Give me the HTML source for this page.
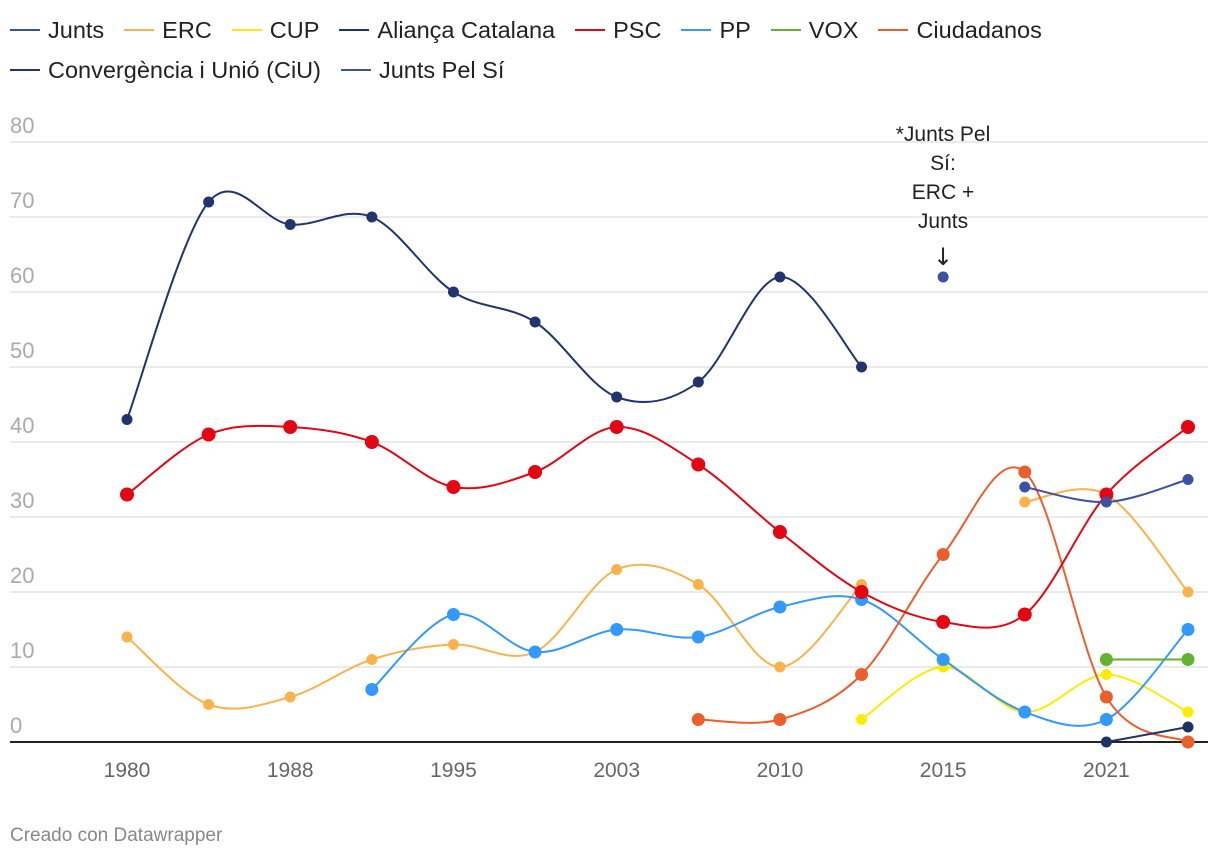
<!DOCTYPE html>
<html><head><meta charset="utf-8"><style>
body{margin:0;background:#fff;font-family:"Liberation Sans",sans-serif;}
#wrap{position:relative;width:1220px;height:858px;overflow:hidden}
.legend{position:absolute;left:10px;top:16px;width:1100px;display:flex;flex-wrap:wrap;row-gap:12px;column-gap:20px;font-size:23.5px;color:#222}
.li{display:flex;align-items:center;height:28px}
.sw{width:30px;height:2px;margin-right:8px}
</style></head><body><div id="wrap">
<div class="legend">
<div class="li"><span class="sw" style="background:#3b51a3"></span>Junts</div>
<div class="li"><span class="sw" style="background:#fbb24a"></span>ERC</div>
<div class="li"><span class="sw" style="background:#ffeb00"></span>CUP</div>
<div class="li"><span class="sw" style="background:#1b3466"></span>Aliança Catalana</div>
<div class="li"><span class="sw" style="background:#e30613"></span>PSC</div>
<div class="li"><span class="sw" style="background:#3399ff"></span>PP</div>
<div class="li"><span class="sw" style="background:#63b32e"></span>VOX</div>
<div class="li"><span class="sw" style="background:#eb5f2c"></span>Ciudadanos</div>
<div class="li"><span class="sw" style="background:#22346e"></span>Convergència i Unió (CiU)</div>
<div class="li"><span class="sw" style="background:#3b51a3"></span>Junts Pel Sí</div>
</div>
<svg id="svg" width="1220" height="858" style="position:absolute;left:0;top:0"></svg>
</div>
<script>
const elections=[1980,1984,1988,1992,1995,1999,2003,2006,2010,2012,2015,2017,2021,2024];
const tickLabels=[1980,1988,1995,2003,2010,2015,2021];
const yTicks=[0,10,20,30,40,50,60,70,80];
const ciu=[43,72,69,70,60,56,46,48,62,50,null,null,null,null];
const jxsi=[null,null,null,null,null,null,null,null,null,null,62,null,null,null];
const junts=[null,null,null,null,null,null,null,null,null,null,null,34,32,35];
const psc=[33,41,42,40,34,36,42,37,28,20,16,17,33,42];
const erc=[14,5,6,11,13,12,23,21,10,21,null,32,33,20];
const pp=[null,null,null,7,17,12,15,14,18,19,11,4,3,15];
const cup=[null,null,null,null,null,null,null,null,null,3,10,4,9,4];
const cs=[null,null,null,null,null,null,null,3,3,9,25,36,6,0];
const vox=[null,null,null,null,null,null,null,null,null,null,null,null,11,11];
const ac=[null,null,null,null,null,null,null,null,null,null,null,null,0,2];
const series=[
 {n:'erc',v:erc,c:'#fbb24a',r:5.5},{n:'cup',v:cup,c:'#ffeb00',r:5.5},
 {n:'pp',v:pp,c:'#3399ff',r:6.5},{n:'cs',v:cs,c:'#eb5f2c',r:6.5},
 {n:'vox',v:vox,c:'#63b32e',r:6.5},{n:'psc',v:psc,c:'#e30613',r:7},
 {n:'ciu',v:ciu,c:'#22346e',r:5.5},{n:'junts-pel-si',v:jxsi,c:'#3b51a3',r:5.5},
 {n:'junts',v:junts,c:'#3b51a3',r:5.5},{n:'alianca',v:ac,c:'#1b3466',r:5.5}];
const svg=document.getElementById('svg');const NS='http://www.w3.org/2000/svg';
const x0=127,x1=1188,yb=742,yt=142;
const xs=i=>x0+(x1-x0)*i/(elections.length-1);
const ys=v=>yb-(yb-yt)*v/80;
function mk(t,a){const e=document.createElementNS(NS,t);for(const k in a)e.setAttribute(k,a[k]);svg.appendChild(e);return e;}
yTicks.forEach(t=>{
 const l=mk('line',{x1:10,x2:1208,y1:ys(t),y2:ys(t),stroke:t===0?'#222':'#e3e3e3','stroke-width':t===0?2:1.5});
 
 
 const tx=mk('text',{x:10,y:ys(t)-9,fill:'#aaa','font-size':22,'font-family':'Liberation Sans'});tx.textContent=t;
 
 
});
tickLabels.forEach(y=>{const i=elections.indexOf(y);
 const tx=mk('text',{x:xs(i),y:777,fill:'#666','font-size':21,'text-anchor':'middle','font-family':'Liberation Sans'});tx.textContent=y;
 
 
});
function path(pts){let d='M'+pts[0][0]+','+pts[0][1];
 for(let i=0;i<pts.length-1;i++){const p0=pts[i-1]||pts[i],p1=pts[i],p2=pts[i+1],p3=pts[i+2]||p2;
  const c1=[p1[0]+(p2[0]-p0[0])/6,p1[1]+(p2[1]-p0[1])/6],c2=[p2[0]-(p3[0]-p1[0])/6,p2[1]-(p3[1]-p1[1])/6];
  d+=' C'+c1+' '+c2+' '+p2;}return d;}
series.forEach(s=>{
 const segs=[];let cur=[];
 s.v.forEach((v,i)=>{if(v===null){if(cur.length)segs.push(cur);cur=[];}else cur.push([xs(i),ys(v)]);});
 if(cur.length)segs.push(cur);
 segs.forEach(pts=>{
  if(pts.length>1){const p=mk('path',{d:path(pts),fill:'none',stroke:s.c,'stroke-width':2});
   
   }
 });
 segs.flat().forEach(q=>{const c=mk('circle',{cx:q[0],cy:q[1],r:s.r,fill:s.c});
  
  });
});
const ann=['*Junts Pel','Sí:','ERC +','Junts'];
ann.forEach((t,i)=>{const tx=mk('text',{x:943,y:141+i*29,'font-size':21,'text-anchor':'middle',fill:'#222','font-family':'Liberation Sans'});tx.textContent=t;
 
 });
const ar=mk('text',{x:943,y:265,'font-size':24,'text-anchor':'middle',fill:'#222','font-family':'DejaVu Sans'});ar.textContent='↓';


const cr=mk('text',{x:10,y:841,'font-size':19,fill:'#888','font-family':'Liberation Sans'});cr.textContent='Creado con Datawrapper';


</script></body></html>
